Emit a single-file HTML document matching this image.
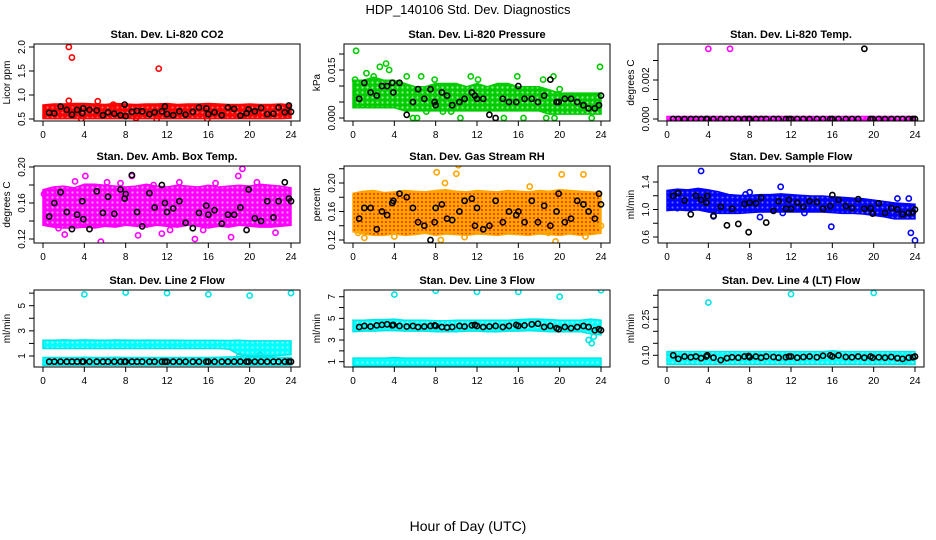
<!DOCTYPE html>
<html><head><meta charset="utf-8"><style>
body{margin:0;background:#fff;}
svg{display:block;font-family:"Liberation Sans",Arial,sans-serif;}
</style></head><body>
<svg id="c" width="936" height="540" viewBox="0 0 936 540">
<defs>
<pattern id="p-red" width="5" height="5" patternUnits="userSpaceOnUse"><rect width="5" height="5" fill="#ff0000"/><circle cx="2.5" cy="2.5" r="1" fill="#ff7070"/></pattern>
<pattern id="p-green" width="5" height="5" patternUnits="userSpaceOnUse"><rect width="5" height="5" fill="#00cc00"/><circle cx="2.5" cy="2.5" r="1.1" fill="#9af09a"/></pattern>
<pattern id="p-mag" width="5" height="5" patternUnits="userSpaceOnUse"><rect width="5" height="5" fill="#ff00ff"/><circle cx="2.5" cy="2.5" r="1.1" fill="#ff9cff"/></pattern>
<pattern id="p-orange" width="4" height="4" patternUnits="userSpaceOnUse"><rect width="4" height="4" fill="#ffa500"/><circle cx="2" cy="2" r="0.9" fill="#ff0000"/></pattern>
<pattern id="p-blue" width="5" height="5" patternUnits="userSpaceOnUse"><rect width="5" height="5" fill="#0000ff"/><circle cx="2.5" cy="2.5" r="1" fill="#7070ff"/></pattern>
<pattern id="p-cyan" width="5" height="5" patternUnits="userSpaceOnUse"><rect width="5" height="5" fill="#00ffff"/><circle cx="2.5" cy="2.5" r="1" fill="#a0ffff"/></pattern>
</defs>
<text x="468" y="14" font-size="13" text-anchor="middle">HDP_140106  Std. Dev. Diagnostics</text>
<text x="468" y="531" font-size="14" text-anchor="middle">Hour of Day (UTC)</text>
</svg>
<script>
// shared hours
const bandHours = [0,1,2,3,4,5,6,7,8,9,10,11,12,13,14,15,16,17,18,19,20,21,22,23,24];
const blackHours = [0.6,1.1,1.7,2.3,2.8,3.3,3.8,3.9,4.5,5.2,5.8,6.3,6.9,7.5,7.9,8.0,8.6,9.1,9.6,10.3,10.8,11.5,11.8,12.0,12.6,13.2,13.8,14.5,15.1,15.8,16.0,16.6,17.3,17.9,18.5,19.1,19.7,19.9,20.5,21.1,21.7,22.3,22.8,23.4,23.8,24.0];
const xTicks = [0,4,8,12,16,20,24];

// panel 1 CO2
const co2Lo = [0.56,0.56,0.56,0.56,0.56,0.56,0.56,0.56,0.56,0.56,0.56,0.56,0.56,0.56,0.56,0.56,0.56,0.56,0.56,0.56,0.56,0.56,0.56,0.56,0.57];
const co2Hi = [0.74,0.76,0.76,0.77,0.77,0.76,0.75,0.77,0.76,0.75,0.76,0.76,0.77,0.75,0.76,0.76,0.77,0.76,0.75,0.75,0.76,0.75,0.75,0.76,0.74];
const co2Black = [0.63,0.62,0.76,0.69,0.59,0.69,0.62,0.72,0.69,0.68,0.58,0.64,0.61,0.58,0.8,0.56,0.65,0.67,0.66,0.6,0.64,0.66,0.76,0.6,0.58,0.66,0.59,0.65,0.74,0.72,0.6,0.64,0.58,0.74,0.71,0.57,0.62,0.7,0.66,0.73,0.6,0.61,0.74,0.64,0.78,0.65];
const co2Out = [[2.5,2.0],[2.8,1.78],[11.2,1.55],[2.5,0.88],[5.3,0.87],[3.7,0.5],[11.0,0.5],[15.9,0.5],[9.0,0.52],[6.8,0.8]];
// panel 2 pressure
const presLo = [0.004,0.004,0.004,0.004,0.004,0.003,0.003,0.003,0.003,0.003,0.003,0.003,0.003,0.003,0.003,0.003,0.003,0.003,0.003,0.002,0.002,0.002,0.002,0.002,0.002];
const presHi = [0.011,0.011,0.012,0.011,0.011,0.010,0.009,0.009,0.010,0.010,0.010,0.009,0.010,0.009,0.010,0.010,0.009,0.009,0.009,0.008,0.007,0.007,0.007,0.007,0.007];
const presBlack = [0.006,0.011,0.008,0.007,0.010,0.010,0.011,0.008,0.011,0.001,0.005,0.009,0.006,0.009,0.005,0.004,0.008,0.007,0.004,0.005,0.006,0.008,0.007,0.006,0.006,0.001,0.000,0.006,0.005,0.005,0.010,0.006,0.006,0.005,0.007,0.012,0.005,0.005,0.006,0.006,0.005,0.004,0.003,0.003,0.004,0.007];
const presOut = [[0.3,0.021],[0.2,0.012],[1.3,0.014],[2.0,0.013],[3.2,0.017],[3.5,0.015],[2.6,0.016],[5.2,0.013],[5.8,0.0],[6.2,0.0],[6.6,0.013],[7.9,0.012],[8.7,0.002],[10.4,0.0],[11.4,0.013],[12.1,0.012],[14.6,0.0],[15.9,0.013],[16.5,0.0],[18.4,0.012],[18.7,0.0],[19.4,0.013],[19.5,0.0],[20.0,0.009],[23.1,0.0],[23.9,0.016],[9.5,0.002],[7.1,0.002]];
// panel 3 temp
const tempLo = [0,0,0,0,0,0,0,0,0,0,0,0,0,0,0,0,0,0,0,0,0,0,0,0,0];
const tempHi = [0,0,0,0,0,0,0,0,0,0,0,0,0,0,0,0,0,0,0,0,0,0,0,0,0];
const tempBlack = [0,0,0,0,0,0,0,0,0,0,0,0,0,0,0,0,0,0,0,0,0,0,0,0,0,0,0,0,0,0,0,0,0,0,0,0.0036,0,0,0,0,0,0,0,0,0,0];
const tempOut = [[4.0,0.0036],[6.1,0.0036]];
// panel 4 amb box temp
const boxLo = [0.138,0.136,0.135,0.135,0.136,0.135,0.137,0.136,0.138,0.137,0.136,0.138,0.137,0.136,0.138,0.137,0.135,0.137,0.136,0.138,0.137,0.136,0.136,0.137,0.138];
const boxHi = [0.172,0.175,0.176,0.174,0.178,0.178,0.177,0.176,0.175,0.176,0.178,0.176,0.175,0.177,0.176,0.175,0.177,0.175,0.176,0.177,0.176,0.178,0.177,0.176,0.174];
const boxBlack = [0.145,0.16,0.172,0.15,0.131,0.147,0.162,0.142,0.131,0.173,0.149,0.167,0.148,0.175,0.165,0.17,0.191,0.15,0.134,0.171,0.155,0.18,0.16,0.15,0.154,0.162,0.138,0.132,0.149,0.157,0.147,0.152,0.137,0.147,0.147,0.155,0.13,0.175,0.143,0.14,0.162,0.144,0.162,0.183,0.165,0.162];
const boxOut = [[0.1,0.17],[1.5,0.132],[3.1,0.184],[4.1,0.19],[5.6,0.117],[6.2,0.183],[7.5,0.182],[8.6,0.19],[10.7,0.18],[11.5,0.126],[13.2,0.183],[14.7,0.12],[15.5,0.13],[16.7,0.182],[18.2,0.122],[18.9,0.19],[19.3,0.198],[20.7,0.183],[22.5,0.127],[23.6,0.172],[2.1,0.125],[9.2,0.124],[12.3,0.13]];
// panel 5 gas stream RH
const rhLo = [0.135,0.132,0.13,0.13,0.132,0.13,0.131,0.133,0.13,0.132,0.131,0.13,0.132,0.131,0.13,0.132,0.131,0.13,0.132,0.131,0.13,0.132,0.13,0.131,0.133];
const rhHi = [0.182,0.185,0.186,0.183,0.184,0.186,0.185,0.184,0.186,0.187,0.185,0.184,0.186,0.185,0.184,0.186,0.185,0.184,0.186,0.185,0.187,0.186,0.185,0.184,0.183];
const rhBlack = [0.15,0.165,0.165,0.135,0.16,0.155,0.172,0.175,0.185,0.18,0.165,0.145,0.14,0.12,0.145,0.165,0.17,0.15,0.148,0.16,0.175,0.178,0.14,0.165,0.135,0.14,0.175,0.145,0.16,0.155,0.16,0.145,0.175,0.145,0.168,0.14,0.16,0.185,0.145,0.15,0.175,0.17,0.16,0.15,0.185,0.17];
const rhOut = [[0.5,0.13],[1.1,0.123],[8.1,0.215],[8.9,0.2],[10.2,0.225],[10.0,0.213],[8.5,0.12],[10.8,0.124],[19.6,0.118],[20.2,0.212],[22.3,0.212],[22.5,0.125],[18.9,0.13],[24.0,0.14],[4.0,0.125],[17.1,0.195],[6.3,0.135]];
// panel 6 sample flow
const flowLo = [1.02,1.03,1.02,1.03,1.0,0.98,0.98,0.98,0.99,1.0,1.0,1.0,1.0,1.0,1.0,1.0,0.99,0.98,0.98,0.97,0.95,0.93,0.9,0.9,0.9];
const flowHi = [1.24,1.26,1.25,1.27,1.25,1.22,1.18,1.17,1.17,1.18,1.18,1.19,1.18,1.17,1.16,1.16,1.15,1.14,1.13,1.12,1.1,1.08,1.06,1.05,1.04];
const flowBlack = [1.2,1.24,1.13,0.93,1.2,1.14,1.1,1.2,0.91,1.04,0.77,1.01,0.79,1.08,0.67,1.1,1.09,1.17,0.81,0.98,1.12,1.01,1.14,1.01,1.1,1.04,1.12,1.11,1.01,1.05,1.21,1.14,1.05,1.02,1.15,1.01,1.02,0.94,1.09,0.95,1.02,1.0,0.93,0.95,0.96,1.0];
const flowOut = [[3.3,1.56],[8.0,1.25],[7.6,1.22],[9.0,0.89],[11.0,1.33],[15.9,0.75],[11.2,0.95],[13.3,0.95],[23.6,0.66],[24.0,0.55],[22.3,1.16],[23.4,1.16],[4.5,0.9],[1.0,1.02]];
// panel 7 line 2 flow
const l2Lo = [1.8,1.8,1.8,1.8,1.8,1.8,1.8,1.8,1.8,1.8,1.8,1.8,1.8,1.8,1.8,1.8,1.8,1.8,1.75,1.3,1.2,1.2,1.2,1.25,1.3];
const l2Hi = [2.05,2.05,2.08,2.05,2.08,2.06,2.05,2.07,2.06,2.05,2.06,2.05,2.05,2.05,2.04,2.04,2.04,2.04,2.03,2.05,2.0,2.0,2.0,2.0,2.0];
const l2Lo2 = [0.45,0.45,0.45,0.45,0.45,0.45,0.45,0.45,0.45,0.45,0.45,0.45,0.45,0.45,0.45,0.45,0.45,0.45,0.45,0.45,0.45,0.45,0.45,0.45,0.45];
const l2Hi2 = [0.68,0.68,0.68,0.68,0.7,0.68,0.68,0.7,0.68,0.68,0.68,0.68,0.68,0.68,0.68,0.68,0.68,0.7,0.72,0.75,0.7,0.7,0.7,0.68,0.68];
const l2Black = [0.55,0.55,0.55,0.55,0.55,0.55,0.55,0.55,0.55,0.55,0.55,0.55,0.55,0.55,0.55,0.55,0.55,0.55,0.55,0.55,0.55,0.55,0.55,0.55,0.55,0.55,0.55,0.55,0.55,0.55,0.55,0.55,0.55,0.55,0.55,0.55,0.55,0.55,0.55,0.55,0.55,0.55,0.55,0.55,0.55,0.55];
const l2Out = [[4.0,5.9],[8.0,6.05],[12.0,6.0],[16.0,5.9],[20.0,5.8],[24.0,6.0],[19.0,1.0],[21.0,1.1]];
// panel 8 line 3 flow
const l3Lo = [4.0,4.05,4.05,4.1,4.1,4.05,4.05,4.05,4.0,4.0,4.0,4.05,4.05,4.0,4.0,4.05,4.05,4.1,4.05,4.0,4.0,4.0,4.0,3.8,3.7];
const l3Hi = [4.6,4.6,4.65,4.65,4.7,4.6,4.6,4.6,4.55,4.55,4.6,4.6,4.6,4.6,4.6,4.6,4.65,4.7,4.7,4.65,4.6,4.6,4.6,4.7,4.6];
const l3Lo2 = [0.85,0.85,0.85,0.85,0.85,0.85,0.85,0.85,0.85,0.85,0.85,0.85,0.85,0.85,0.85,0.85,0.85,0.85,0.85,0.85,0.85,0.85,0.85,0.85,0.85];
const l3Hi2 = [1.1,1.1,1.1,1.1,1.15,1.1,1.1,1.1,1.1,1.1,1.1,1.1,1.1,1.1,1.1,1.1,1.1,1.1,1.1,1.1,1.1,1.1,1.1,1.1,1.1];
const l3Black = [4.2,4.3,4.25,4.35,4.4,4.45,4.35,4.4,4.3,4.25,4.3,4.2,4.25,4.3,4.35,4.3,4.2,4.15,4.2,4.3,4.25,4.35,4.4,4.3,4.2,4.25,4.3,4.2,4.3,4.4,4.3,4.35,4.45,4.5,4.2,4.3,4.1,4.0,4.2,4.1,4.2,4.3,4.2,3.9,4.0,3.9];
const l3Out = [[4.0,7.2],[8.0,7.55],[12.0,7.45],[16.0,7.45],[20.0,7.0],[24.0,7.6],[22.8,3.0],[23.1,2.7],[23.3,3.3]];
// panel 9 line 4 flow
const l4Lo = [0.072,0.072,0.072,0.072,0.072,0.072,0.072,0.072,0.072,0.072,0.072,0.072,0.072,0.072,0.072,0.072,0.072,0.072,0.072,0.072,0.072,0.072,0.072,0.072,0.072];
const l4Hi = [0.105,0.105,0.105,0.105,0.105,0.105,0.105,0.105,0.105,0.105,0.105,0.105,0.105,0.105,0.105,0.105,0.108,0.105,0.105,0.105,0.105,0.105,0.105,0.105,0.105];
const l4Black = [0.1,0.085,0.095,0.092,0.095,0.088,0.095,0.1,0.09,0.08,0.088,0.092,0.09,0.095,0.097,0.092,0.095,0.09,0.095,0.093,0.09,0.092,0.095,0.095,0.09,0.093,0.095,0.092,0.098,0.1,0.095,0.1,0.093,0.092,0.095,0.09,0.095,0.09,0.092,0.09,0.093,0.088,0.085,0.09,0.092,0.095];
const l4Out = [[4.0,0.32],[12.0,0.355],[20.0,0.36],[23.0,0.075]];

const svg = document.getElementById('c');
const NS = 'http://www.w3.org/2000/svg';
function mk(tag, attrs, parent){const e=document.createElementNS(NS,tag);for(const k in attrs)e.setAttribute(k,attrs[k]);(parent||svg).appendChild(e);return e;}

const colLeft=[34,344,658], rowTop=[44,166,290], boxW=266, boxH=77;
const panels = [
 {t:'Stan. Dev. Li-820 CO2',yl:'Licor ppm',c:0,r:0,v1:0.5,p1:119,v2:2.0,p2:47,ticks:[0.5,1.0,1.5,2.0],lab:['0.5','1.0','1.5','2.0'],lo:co2Lo,hi:co2Hi,bl:co2Black,out:co2Out,pat:'p-red',col:'#ff0000'},
 {t:'Stan. Dev. Li-820 Pressure',yl:'kPa',c:1,r:0,v1:0,p1:118,v2:0.015,p2:70,ticks:[0,0.005,0.01,0.015,0.02],lab:['0.000','','','0.015',''],lo:presLo,hi:presHi,bl:presBlack,out:presOut,pat:'p-green',col:'#00cc00'},
 {t:'Stan. Dev. Li-820 Temp.',yl:'degrees C',c:2,r:0,v1:0,p1:119,v2:0.002,p2:80,ticks:[0,0.001,0.002,0.003],lab:['0.000','','0.002',''],lo:tempLo,hi:tempHi,bl:tempBlack,out:tempOut,pat:'p-mag',col:'#ff00ff'},
 {t:'Stan. Dev. Amb. Box Temp.',yl:'degrees C',c:0,r:1,v1:0.12,p1:239,v2:0.2,p2:167,ticks:[0.12,0.14,0.16,0.18,0.2],lab:['0.12','','0.16','','0.20'],lo:boxLo,hi:boxHi,bl:boxBlack,out:boxOut,pat:'p-mag',col:'#ff00ff'},
 {t:'Stan. Dev. Gas Stream RH',yl:'percent',c:1,r:1,v1:0.12,p1:240,v2:0.2,p2:183,ticks:[0.12,0.14,0.16,0.18,0.2,0.22],lab:['0.12','','0.16','','0.20',''],lo:rhLo,hi:rhHi,bl:rhBlack,out:rhOut,pat:'p-orange',col:'#ffa500'},
 {t:'Stan. Dev. Sample Flow',yl:'ml/min',c:2,r:1,v1:0.6,p1:237,v2:1.4,p2:182,ticks:[0.6,0.8,1.0,1.2,1.4],lab:['0.6','','1.0','','1.4'],lo:flowLo,hi:flowHi,bl:flowBlack,out:flowOut,pat:'p-blue',col:'#0000ff'},
 {t:'Stan. Dev. Line 2 Flow',yl:'ml/min',c:0,r:2,v1:1,p1:356,v2:5,p2:305.7,ticks:[1,2,3,4,5,6],lab:['1','','3','','5',''],lo:l2Lo,hi:l2Hi,lo2:l2Lo2,hi2:l2Hi2,bl:l2Black,out:l2Out,pat:'p-cyan',col:'#00e5e5'},
 {t:'Stan. Dev. Line 3 Flow',yl:'ml/min',c:1,r:2,v1:1,p1:361.7,v2:7,p2:296.7,ticks:[1,2,3,4,5,6,7],lab:['1','','3','','5','','7'],lo:l3Lo,hi:l3Hi,lo2:l3Lo2,hi2:l3Hi2,bl:l3Black,out:l3Out,pat:'p-cyan',col:'#00e5e5'},
 {t:'Stan. Dev. Line 4 (LT) Flow',yl:'ml/min',c:2,r:2,v1:0.10,p1:355.3,v2:0.25,p2:319.3,ticks:[0.1,0.15,0.2,0.25,0.3,0.35],lab:['0.10','','','0.25','',''],lo:l4Lo,hi:l4Hi,bl:l4Black,out:l4Out,pat:'p-cyan',col:'#00e5e5'}
];
const names=['co2','pressure','li820-temp','box-temp','gas-rh','sample-flow','line2-flow','line3-flow','line4-flow'];

panels.forEach((P,i)=>{
 const L=colLeft[P.c], T=rowTop[P.r];
 const g=mk('g',{});
 
 
 const X=h=>L+9+h*(248/24);
 const Y=v=>P.p1+(v-P.v1)*(P.p2-P.p1)/(P.v2-P.v1);
 const cp=mk('clipPath',{id:'cl'+i},g); mk('rect',{x:L,y:T,width:boxW,height:boxH},cp);
 const inner=mk('g',{'clip-path':'url(#cl'+i+')'},g);
 function band(lo,hi,nm){
  let pts=bandHours.map((h,k)=>X(h)+','+(Y(hi[k])-2.5));
  pts=pts.concat(bandHours.slice().reverse().map((h,k)=>X(h)+','+(Y(lo[lo.length-1-k])+2.5)));
  const pg=mk('polygon',{points:pts.join(' '),fill:'url(#'+P.pat+')',stroke:P.col,'stroke-width':1.5},inner);
  
  
 }
 band(P.lo,P.hi,'cloud-band');
 if(P.lo2) band(P.lo2,P.hi2,'cloud-band-lower');
 P.out.forEach(o=>{
  const c=mk('circle',{cx:X(o[0]),cy:Y(o[1]),r:2.6,fill:'none',stroke:P.col,'stroke-width':1.6},inner);
  
  
 });
 P.bl.forEach((v,k)=>{
  const c=mk('circle',{cx:X(blackHours[k]),cy:Y(v),r:2.6,fill:'none',stroke:'#000','stroke-width':1.6},inner);
  
  
 });
 const box=mk('rect',{x:L,y:T,width:boxW,height:boxH,fill:'none',stroke:'#000','stroke-width':1},g);
 
 
 const tt=mk('text',{x:L+boxW/2,y:T-6,'font-size':11,'font-weight':'bold','text-anchor':'middle'},g);
 tt.textContent=P.t;
 
 
 xTicks.forEach(h=>{
  mk('line',{x1:X(h),x2:X(h),y1:T+boxH,y2:T+boxH+5,stroke:'#000'},g);
  const t=mk('text',{x:X(h),y:T+boxH+17,'font-size':10,'text-anchor':'middle'},g);
  t.textContent=h;
  
  
 });
 P.ticks.forEach((v,k)=>{
  const y=Y(v);
  mk('line',{x1:L-5,x2:L,y1:y,y2:y,stroke:'#000'},g);
  if(P.lab[k]){
   const t=mk('text',{x:L-9,y:y,'font-size':10,'text-anchor':'middle',transform:'rotate(-90 '+(L-9)+' '+y+')'},g);
   t.textContent=P.lab[k];
   
   
  }
 });
 const yl=mk('text',{x:L-24,y:T+boxH/2,'font-size':10,'text-anchor':'middle',transform:'rotate(-90 '+(L-24)+' '+(T+boxH/2)+')'},g);
 yl.textContent=P.yl;
 
 
});
</script>
</body></html>
